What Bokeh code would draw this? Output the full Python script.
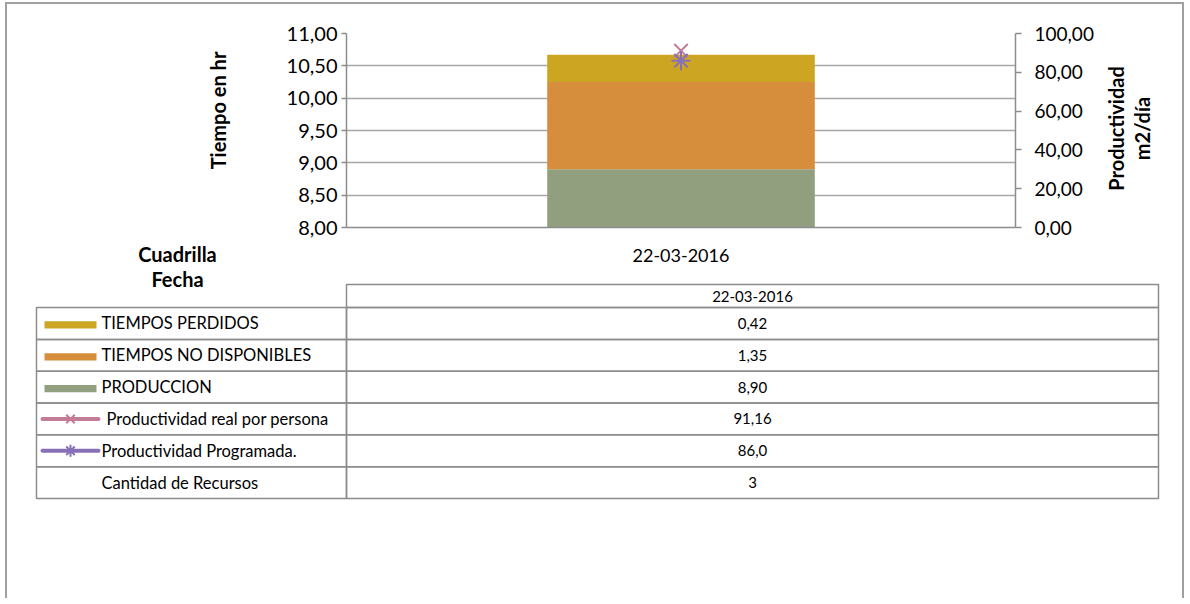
import math
from bokeh.plotting import figure
from bokeh.models import FactorRange, Range1d, LinearAxis, FixedTicker, ColumnDataSource
from bokeh.embed import file_html
from bokeh.resources import INLINE
from bokeh.core.properties import value

# ---------------- data ----------------
dates = ["22-03-2016"]
produccion = [8.90]
no_disponibles = [1.35]
perdidos = [0.42]
prod_real = [91.16]
prod_prog = [86.0]
recursos = [3]

left_ticks = [8.0, 8.5, 9.0, 9.5, 10.0, 10.5, 11.0]
left_tick_labels = ["8,00", "8,50", "9,00", "9,50", "10,00", "10,50", "11,00"]
right_ticks = [0, 20, 40, 60, 80, 100]
right_tick_labels = ["0,00", "20,00", "40,00", "60,00", "80,00", "100,00"]

row_labels = ["TIEMPOS PERDIDOS", "TIEMPOS NO DISPONIBLES", "PRODUCCION",
              "Productividad real por persona", "Productividad Programada.",
              "Cantidad de Recursos"]
corner_labels = ["Cuadrilla", "Fecha"]
axis_titles = ["Tiempo en hr", "Productividad", "m2/día"]

# ---------------- styles ----------------
FONT = "Lato"
C_PERD = "#CCA622"
C_NODISP = "#D78E3C"
C_PROD = "#929F7F"
C_REAL = "#C47B97"
C_PROG = "#8670B8"
GRID = "#A6A6A6"
AXIS = "#8C8C8C"
FRAME = "2px solid #A0A0A0"
TXT = "#000000"
W = 1179

# ---------------- chart ----------------
src = ColumnDataSource(dict(dates=dates, prod=produccion, nodisp=no_disponibles,
                            perd=perdidos, real=prod_real, prog=prod_prog))

PH = 266
p = figure(width=W, height=PH, x_range=FactorRange(factors=dates), y_range=Range1d(8, 11),
           output_backend="svg", toolbar_location=None,
           min_border_left=339, min_border_right=171, min_border_top=29, min_border_bottom=43)
p.styles = {"margin-left": "5px", "margin-top": "2px",
            "border-left": FRAME, "border-right": FRAME, "border-top": FRAME}
p.extra_y_ranges = {"prod": Range1d(0, 100)}
p.outline_line_color = None
p.background_fill_color = "white"
p.border_fill_color = "white"

p.vbar_stack(["prod", "nodisp", "perd"], x="dates", width=0.4, source=src,
             fill_color=[C_PROD, C_NODISP, C_PERD], line_color=None)
p.scatter(x="dates", y="real", marker="x", size=19, line_color=C_REAL, line_width=2,
          y_range_name="prod", source=src)
p.scatter(x="dates", y="prog", marker="asterisk", size=19, line_color=C_PROG, line_width=2,
          y_range_name="prod", source=src)

ya = p.yaxis[0]
ya.ticker = FixedTicker(ticks=left_ticks)
ya.major_label_overrides = dict(zip(left_ticks, left_tick_labels))
ya.axis_line_color = AXIS
ya.axis_line_width = 1.5
ya.major_tick_in = 0
ya.major_tick_out = 5
ya.major_tick_line_color = AXIS
ya.major_tick_line_width = 1.5
ya.minor_tick_line_color = None
ya.major_label_text_font = FONT
ya.major_label_text_font_size = "20px"
ya.major_label_text_color = TXT
ya.major_label_standoff = 4

ra = LinearAxis(y_range_name="prod", ticker=FixedTicker(ticks=right_ticks))
ra.major_label_overrides = dict(zip(right_ticks, right_tick_labels))
ra.axis_line_color = AXIS
ra.axis_line_width = 1.5
ra.major_tick_in = 0
ra.major_tick_out = 6
ra.major_tick_line_color = AXIS
ra.major_tick_line_width = 1.5
ra.minor_tick_line_color = None
ra.major_label_text_font = FONT
ra.major_label_text_font_size = "19px"
ra.major_label_text_color = TXT
ra.major_label_standoff = 13
p.add_layout(ra, "right")

xa = p.xaxis[0]
xa.axis_line_color = AXIS
xa.axis_line_width = 1.5
xa.major_tick_line_color = None
xa.minor_tick_line_color = None
xa.major_label_text_font = FONT
xa.major_label_text_font_size = "18px"
xa.major_label_text_color = TXT
xa.major_label_standoff = 15

p.xgrid.visible = False
p.ygrid.grid_line_color = GRID
p.ygrid.grid_line_width = 1.5

# ---------------- table ----------------
LABEL_W = 310
TABLE_W = 1122
HEADER_H = 23
ROW_H = 31.8
TABLE_H = HEADER_H + ROW_H * len(row_labels)
PAD = 2
TOP_EXTRA = 43
OVERLAP = 30
QH = 360

q = figure(width=W, height=QH, x_range=Range1d(-PAD, TABLE_W + PAD),
           y_range=Range1d(-PAD, TABLE_H + TOP_EXTRA), x_axis_type=None, y_axis_type=None,
           output_backend="svg", toolbar_location=None,
           min_border_left=27, min_border_right=26, min_border_top=3,
           min_border_bottom=QH - 3 - int(round(TABLE_H + TOP_EXTRA + PAD)))
q.styles = {"margin-left": "5px", "margin-top": f"-{OVERLAP}px",
            "border-left": FRAME, "border-right": FRAME}
q.outline_line_color = None
q.background_fill_color = None
q.border_fill_color = None

n = len(row_labels)
tops = [TABLE_H - HEADER_H - i * ROW_H for i in range(n)]
bots = [t - ROW_H for t in tops]
mids = [t - ROW_H / 2 for t in tops]

values_txt = [f"{perdidos[0]:.2f}".replace(".", ","),
              f"{no_disponibles[0]:.2f}".replace(".", ","),
              f"{produccion[0]:.2f}".replace(".", ","),
              f"{prod_real[0]:.2f}".replace(".", ","),
              f"{prod_prog[0]:.1f}".replace(".", ","),
              f"{recursos[0]}"]

q.quad(left=[LABEL_W], right=[TABLE_W], top=[TABLE_H], bottom=[TABLE_H - HEADER_H],
       fill_color=None, line_color=AXIS, line_width=1.5)
q.quad(left=[0] * n, right=[LABEL_W] * n, top=tops, bottom=bots,
       fill_color=None, line_color=AXIS, line_width=1.5)
q.quad(left=[LABEL_W] * n, right=[TABLE_W] * n, top=tops, bottom=bots,
       fill_color=None, line_color=AXIS, line_width=1.5)

q.text(x=[(LABEL_W + TABLE_W) / 2], y=[TABLE_H - HEADER_H / 2], text=dates,
       text_align="center", text_baseline="middle", text_font=value(FONT),
       text_font_size="15px", text_color=TXT)
q.text(x=[(LABEL_W + TABLE_W) / 2] * n, y=mids, text=values_txt,
       text_align="center", text_baseline="middle", text_font=value(FONT),
       text_font_size="15px", text_color=TXT)

label_x = [65, 65, 65, 70, 65, 65]
q.text(x=label_x, y=mids, text=row_labels, text_align="left", text_baseline="middle",
       text_font=value(FONT), text_font_size="16.5px", text_color=TXT)

q.text(x=[141, 141], y=[TABLE_H + 31, TABLE_H + 6], text=corner_labels,
       text_align="center", text_baseline="middle", text_font=value(FONT),
       text_font_style="bold", text_font_size="20px", text_color=TXT)

swatch_colors = [C_PERD, C_NODISP, C_PROD]
q.quad(left=[8] * 3, right=[60] * 3, top=[m - 1.5 + 3.6 for m in mids[:3]],
       bottom=[m - 1.5 - 3.6 for m in mids[:3]], fill_color=swatch_colors, line_color=None)
q.segment(x0=[6, 6], x1=[62, 62], y0=mids[3:5], y1=mids[3:5],
          line_color=[C_REAL, C_PROG], line_width=4, line_cap="round")
q.scatter(x=[34], y=[mids[3]], marker="x", size=12, line_color=C_REAL, line_width=2)
q.scatter(x=[34], y=[mids[4]], marker="asterisk", size=12, line_color=C_PROG, line_width=2)

# ---------------- axis titles (transparent overlay, read bottom-to-top) ----------------
RX, RY = 200, 40
RW, RH = 964, 160
r = figure(width=RW, height=RH, x_range=Range1d(0, RW), y_range=Range1d(0, RH),
           x_axis_type=None, y_axis_type=None, output_backend="svg", toolbar_location=None,
           min_border=0)
r.styles = {"margin-left": f"{RX}px", "margin-top": f"-{(4 + PH - OVERLAP + QH) - RY}px"}
r.outline_line_color = None
r.background_fill_color = None
r.border_fill_color = None
r.xgrid.visible = False
r.ygrid.visible = False
r.text(x=[17, 915, 941], y=[RH - (112 - RY), RH - (130 - RY), RH - (130 - RY)],
       text=axis_titles, angle=math.pi / 2,
       text_align="center", text_baseline="middle", text_font=value(FONT),
       text_font_style="bold", text_font_size="20px", text_color=TXT)

open("out.html", "w").write(file_html([p, q, r], INLINE))
